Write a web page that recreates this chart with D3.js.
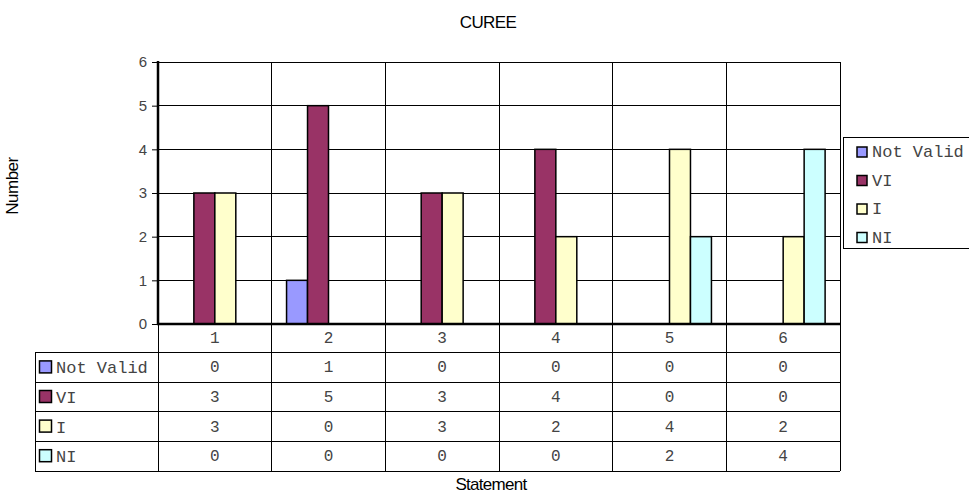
<!DOCTYPE html>
<html>
<head>
<meta charset="utf-8">
<script src="https://cdn.jsdelivr.net/npm/d3@7"></script>
<style>
  html, body { margin: 0; padding: 0; background: #fff; }
  svg { display: block; }
</style>
</head>
<body>
<svg id="chart" width="969" height="495"></svg>
<script>
// Chart data
const title = "CUREE";
const categories = ["1", "2", "3", "4", "5", "6"];
const seriesNames = ["Not Valid", "VI", "I", "NI"];
const notValid = [0, 1, 0, 0, 0, 0];
const vi = [3, 5, 3, 4, 0, 0];
const imp = [3, 0, 3, 2, 4, 2];
const ni = [0, 0, 0, 0, 2, 4];
const yTicks = [0, 1, 2, 3, 4, 5, 6];
const colors = ["#9999ff", "#993366", "#ffffcc", "#ccffff"];

const seriesValues = [notValid, vi, imp, ni];

const svg = d3.select("#chart");

const plot = { left: 158, right: 840, top: 62, bottom: 324 };
const table = { left: 35, rowH: 29.6, headerH: 28.6 };

const x = d3.scaleBand().domain(categories).range([plot.left, plot.right]).paddingInner(0).paddingOuter(0);
const xInner = d3.scaleBand().domain(seriesNames).range([0, x.bandwidth()]).paddingInner(0).paddingOuter(0.71);
const y = d3.scaleLinear().domain([0, 6]).range([plot.bottom, plot.top]);

const sans = "'Liberation Sans', Arial, sans-serif";
const mono = "'Liberation Mono', 'Courier New', monospace";
const textGrey = "#444";

// Title
svg.append("text").attr("x", 488).attr("y", 28).attr("text-anchor", "middle")
  .attr("font-family", sans).attr("font-size", 17).attr("letter-spacing", -0.6)
  .attr("fill", "#000").text(title);

// Horizontal gridlines
svg.append("g").selectAll("line").data(yTicks.slice(1)).join("line")
  .attr("x1", plot.left).attr("x2", plot.right)
  .attr("y1", d => y(d)).attr("y2", d => y(d))
  .attr("stroke", "#000").attr("stroke-width", 1).attr("shape-rendering", "crispEdges");

// Vertical category lines spanning plot and table
const tableBottom = plot.bottom + table.headerH + table.rowH * seriesNames.length;
svg.append("g").selectAll("line").data(categories).join("line")
  .attr("x1", d => x(d)).attr("x2", d => x(d))
  .attr("y1", (d, i) => i === 0 ? plot.bottom : plot.top).attr("y2", tableBottom)
  .attr("stroke", "#000").attr("stroke-width", 1).attr("shape-rendering", "crispEdges");

// Bars
const groups = svg.append("g").selectAll("g").data(categories).join("g")
  .attr("transform", d => `translate(${x(d)},0)`);
groups.selectAll("rect")
  .data((c, i) => seriesNames.map((s, j) => ({ s, j, v: seriesValues[j][i] })).filter(d => d.v > 0))
  .join("rect")
  .attr("x", d => xInner(d.s))
  .attr("width", xInner.bandwidth())
  .attr("y", d => y(d.v))
  .attr("height", d => y(0) - y(d.v))
  .attr("fill", d => colors[d.j])
  .attr("stroke", "#000").attr("stroke-width", 1.5);

// Plot frame: top and right thin
svg.append("line").attr("x1", plot.left).attr("x2", plot.right).attr("y1", plot.top).attr("y2", plot.top)
  .attr("stroke", "#000").attr("stroke-width", 1).attr("shape-rendering", "crispEdges");
svg.append("line").attr("x1", plot.right).attr("x2", plot.right).attr("y1", plot.top).attr("y2", tableBottom)
  .attr("stroke", "#000").attr("stroke-width", 1).attr("shape-rendering", "crispEdges");

// Y axis (heavy line only across the plot area)
const yAxis = d3.axisLeft(y).tickValues(yTicks).tickFormat(d3.format("d")).tickSize(6).tickPadding(5);
const yg = svg.append("g").attr("transform", `translate(${plot.left},0)`).call(yAxis);
yg.select(".domain").attr("stroke", "#000").attr("stroke-width", 2.5).attr("d", `M0,${plot.top - 1}V${plot.bottom}`);
yg.selectAll(".tick line").attr("stroke", "#000").attr("stroke-width", 1);
yg.selectAll(".tick text").attr("font-family", sans).attr("font-size", 15).attr("fill", textGrey);

// Baseline
svg.append("line").attr("x1", plot.left - 1).attr("x2", plot.right).attr("y1", plot.bottom).attr("y2", plot.bottom)
  .attr("stroke", "#000").attr("stroke-width", 2.5);

// Category labels row
svg.append("g").selectAll("text").data(categories).join("text")
  .attr("x", d => x(d) + x.bandwidth() / 2)
  .attr("y", plot.bottom + table.headerH / 2 + 5)
  .attr("text-anchor", "middle").attr("font-family", mono).attr("font-size", 16).attr("fill", textGrey)
  .text(d => d);

// Data table rows
const rowsG = svg.append("g");
seriesNames.forEach((s, j) => {
  const top = plot.bottom + table.headerH + table.rowH * j;
  rowsG.append("line").attr("x1", table.left).attr("x2", plot.right).attr("y1", top).attr("y2", top)
    .attr("stroke", "#000").attr("stroke-width", 1).attr("shape-rendering", "crispEdges");
  rowsG.append("rect").attr("x", table.left + 4.5).attr("y", top + table.rowH / 2 - 6.5)
    .attr("width", 12).attr("height", 12).attr("fill", colors[j]).attr("stroke", "#000").attr("stroke-width", 1.5);
  rowsG.append("text").attr("x", table.left + 21).attr("y", top + table.rowH / 2 + 6)
    .attr("font-family", mono).attr("font-size", 17).attr("fill", textGrey).text(s);
  rowsG.selectAll(null).data(categories).join("text")
    .attr("x", d => x(d) + x.bandwidth() / 2)
    .attr("y", top + table.rowH / 2 + 5)
    .attr("text-anchor", "middle").attr("font-family", mono).attr("font-size", 16).attr("fill", textGrey)
    .text((d, i) => seriesValues[j][i]);
});
rowsG.append("line").attr("x1", table.left).attr("x2", plot.right).attr("y1", tableBottom).attr("y2", tableBottom)
  .attr("stroke", "#000").attr("stroke-width", 1).attr("shape-rendering", "crispEdges");
rowsG.append("line").attr("x1", table.left).attr("x2", table.left).attr("y1", plot.bottom + table.headerH).attr("y2", tableBottom)
  .attr("stroke", "#000").attr("stroke-width", 1).attr("shape-rendering", "crispEdges");

// Axis titles
svg.append("text").attr("transform", "translate(18,186) rotate(-90)").attr("text-anchor", "middle")
  .attr("font-family", sans).attr("font-size", 17).attr("letter-spacing", -0.5).attr("fill", "#000").text("Number");
svg.append("text").attr("x", 491).attr("y", 490).attr("text-anchor", "middle")
  .attr("font-family", sans).attr("font-size", 17).attr("letter-spacing", -0.7).attr("fill", "#000").text("Statement");

// Legend
const legend = svg.append("g").attr("transform", "translate(843,137)");
legend.append("rect").attr("x", 0.5).attr("y", 0.5).attr("width", 140).attr("height", 111)
  .attr("fill", "#fff").attr("stroke", "#000").attr("stroke-width", 1);
const li = legend.selectAll("g").data(seriesNames).join("g")
  .attr("transform", (d, i) => `translate(0,${15 + i * 28.5})`);
li.append("rect").attr("x", 14).attr("y", -5).attr("width", 10).attr("height", 10)
  .attr("fill", (d, i) => colors[i]).attr("stroke", "#000").attr("stroke-width", 1.5);
li.append("text").attr("x", 29).attr("y", 5).attr("font-family", mono).attr("font-size", 17)
  .attr("fill", textGrey).text(d => d);
</script>
</body>
</html>
